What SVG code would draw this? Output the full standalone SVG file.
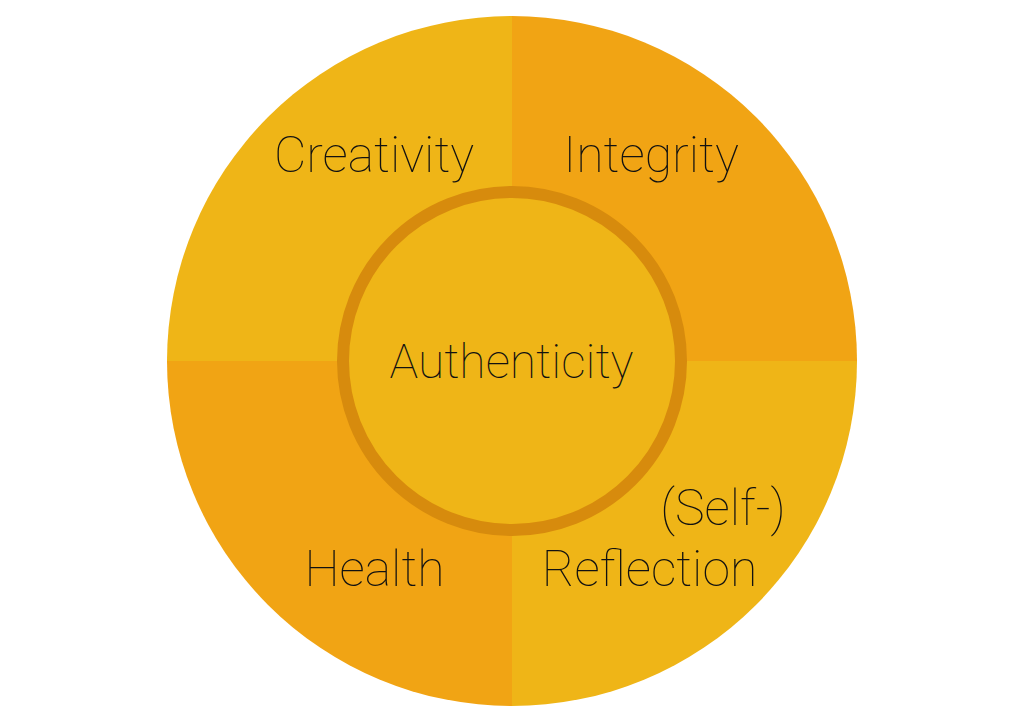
<svg xmlns="http://www.w3.org/2000/svg" width="1024" height="724" viewBox="0 0 1024 724">
<style>
.lbl{font-family:Roboto,"Liberation Sans",sans-serif;font-weight:100;font-size:50px;fill:#111111}
.ctr{font-size:48px}
</style>
<defs>
<clipPath id="outer"><circle cx="512" cy="361" r="345"/></clipPath>
</defs>
<rect width="1024" height="724" fill="#ffffff"/>
<g id="quadrants" clip-path="url(#outer)">
<rect id="q-tl" x="167" y="16" width="345" height="345" fill="#EFB517"/>
<rect id="q-tr" x="512" y="16" width="345" height="345" fill="#F1A414"/>
<rect id="q-bl" x="167" y="361" width="345" height="345" fill="#F1A414"/>
<rect id="q-br" x="512" y="361" width="345" height="345" fill="#EFB517"/>
</g>
<g id="center">
<circle cx="512" cy="361" r="169" fill="#EFB517" stroke="#D78B0D" stroke-width="12"/>
<text class="lbl ctr" x="511.5" y="378" text-anchor="middle">Authenticity</text>
</g>
<g id="creativity"><text class="lbl" x="374" y="172" text-anchor="middle">Creativity</text></g>
<g id="integrity"><text class="lbl" x="651" y="172" text-anchor="middle">Integrity</text></g>
<g id="health"><text class="lbl" x="374.5" y="586" text-anchor="middle">Health</text></g>
<g id="reflection">
<text class="lbl" x="723" y="525" text-anchor="middle">(Self-)</text>
<text class="lbl" x="649.5" y="586" text-anchor="middle">Reflection</text>
</g>
<g id="connectors"/>
</svg>
